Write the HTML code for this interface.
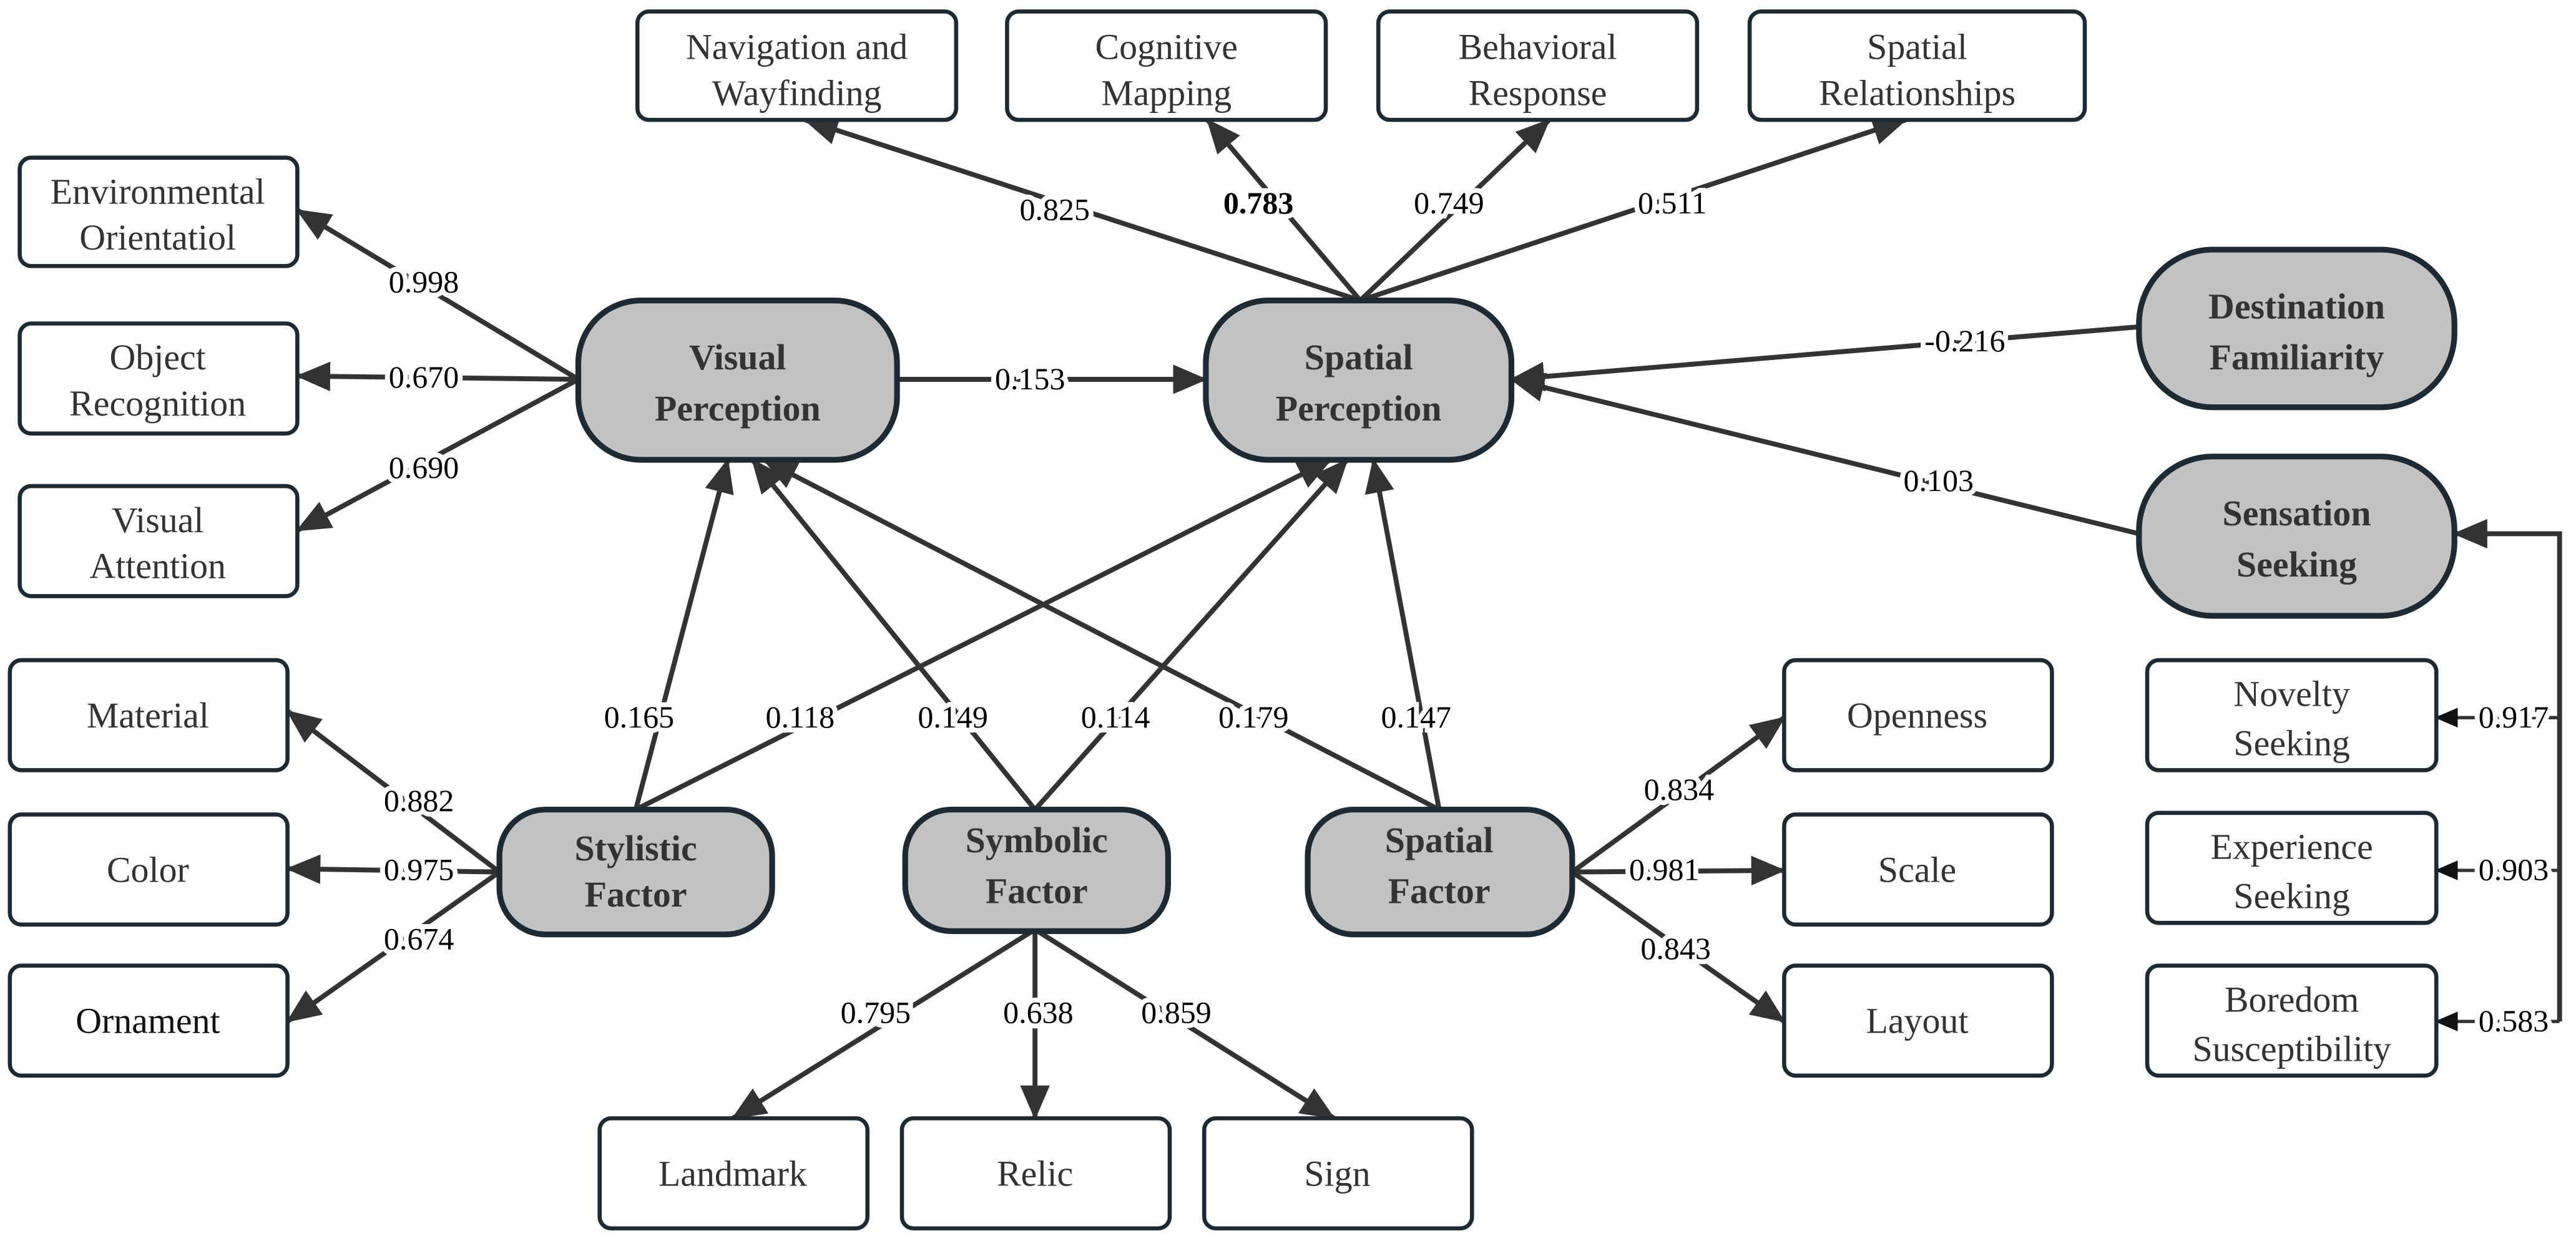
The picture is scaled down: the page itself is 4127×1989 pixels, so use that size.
<!DOCTYPE html>
<html><head><meta charset="utf-8"><style>html,body{margin:0;padding:0;background:#fff}svg{display:block}
svg text{font-family:"Liberation Serif","DejaVu Serif",serif}</style></head>
<body>
<svg width="4127" height="1989" viewBox="0 0 1568 755.7" preserveAspectRatio="none" xmlns="http://www.w3.org/2000/svg">
<defs>
<marker id="a" markerUnits="userSpaceOnUse" markerWidth="22" markerHeight="18" refX="20" refY="9" orient="auto"><path d="M0,0 L21,9 L0,18 z" fill="#333"/></marker>
<marker id="s" markerUnits="userSpaceOnUse" markerWidth="14" markerHeight="12" refX="13" refY="6" orient="auto"><path d="M0,0 L14,6 L0,12 z" fill="#111"/></marker>
</defs>
<g stroke="#333" stroke-width="3" fill="none" marker-end="url(#a)">
<line x1="352" y1="231" x2="181" y2="128"/>
<line x1="352" y1="231" x2="181" y2="229"/>
<line x1="352" y1="231" x2="181" y2="323"/>
<line x1="546" y1="231" x2="734" y2="231"/>
<line x1="828" y1="183" x2="490" y2="73"/>
<line x1="828" y1="183" x2="735" y2="73"/>
<line x1="828" y1="183" x2="943" y2="73"/>
<line x1="828" y1="183" x2="1160" y2="73"/>
<line x1="1302" y1="199" x2="920" y2="231"/>
<line x1="1302" y1="325" x2="920" y2="231"/>
<line x1="387" y1="493" x2="443" y2="280"/>
<line x1="387" y1="493" x2="810" y2="280"/>
<line x1="630" y1="493" x2="458" y2="280"/>
<line x1="630" y1="493" x2="820" y2="280"/>
<line x1="876" y1="493" x2="465" y2="280"/>
<line x1="876" y1="493" x2="836" y2="280"/>
<line x1="304" y1="531" x2="175" y2="433"/>
<line x1="304" y1="531" x2="175" y2="529"/>
<line x1="304" y1="531" x2="175" y2="622"/>
<line x1="630" y1="566" x2="446" y2="681"/>
<line x1="630" y1="566" x2="630" y2="681"/>
<line x1="630" y1="566" x2="812" y2="681"/>
<line x1="957" y1="531" x2="1086" y2="437"/>
<line x1="957" y1="531" x2="1086" y2="530"/>
<line x1="957" y1="531" x2="1086" y2="622"/>
<polyline points="1558,622 1558,325 1494,325"/>
</g>
<g stroke="#333" stroke-width="2" fill="none" marker-end="url(#s)">
<line x1="1558" y1="437" x2="1483" y2="437"/>
<line x1="1558" y1="530" x2="1483" y2="530"/>
<line x1="1558" y1="622" x2="1483" y2="622"/>
</g>
<g fill="#fff" stroke="#1e2a33" stroke-width="2.5">
<rect x="388" y="7" width="194" height="66" rx="7"/>
<rect x="613" y="7" width="194" height="66" rx="7"/>
<rect x="839" y="7" width="194" height="66" rx="7"/>
<rect x="1065" y="7" width="204" height="66" rx="7"/>
<rect x="12" y="96" width="169" height="66" rx="7"/>
<rect x="12" y="197" width="169" height="67" rx="7"/>
<rect x="12" y="296" width="169" height="67" rx="7"/>
<rect x="6" y="402" width="169" height="67" rx="7"/>
<rect x="6" y="496" width="169" height="67" rx="7"/>
<rect x="6" y="588" width="169" height="67" rx="7"/>
<rect x="1086" y="402" width="163" height="67" rx="7"/>
<rect x="1086" y="496" width="163" height="67" rx="7"/>
<rect x="1086" y="588" width="163" height="67" rx="7"/>
<rect x="1307" y="402" width="176" height="67" rx="7"/>
<rect x="1307" y="495" width="176" height="67" rx="7"/>
<rect x="1307" y="588" width="176" height="67" rx="7"/>
<rect x="365" y="681" width="163" height="67" rx="7"/>
<rect x="549" y="681" width="163" height="67" rx="7"/>
<rect x="733" y="681" width="163" height="67" rx="7"/>
</g>
<g fill="#c2c2c2" stroke="#1e2a33" stroke-width="3.5">
<rect x="352" y="183" width="194" height="97" rx="38"/>
<rect x="734" y="183" width="186" height="97" rx="38"/>
<rect x="1302" y="152" width="192" height="96" rx="45"/>
<rect x="1302" y="278" width="192" height="97" rx="45"/>
<rect x="304" y="493" width="166" height="76" rx="28"/>
<rect x="551" y="493" width="160" height="74" rx="28"/>
<rect x="796" y="493" width="161" height="76" rx="28"/>
</g>
<g font-size="22" fill="#333" text-anchor="middle">
<text x="485" y="36">Navigation and</text><text x="485" y="64">Wayfinding</text>
<text x="710" y="36">Cognitive</text><text x="710" y="64">Mapping</text>
<text x="936" y="36">Behavioral</text><text x="936" y="64">Response</text>
<text x="1167" y="36">Spatial</text><text x="1167" y="64">Relationships</text>
<text x="96" y="124">Environmental</text><text x="96" y="152">Orientatiol</text>
<text x="96" y="225">Object</text><text x="96" y="253">Recognition</text>
<text x="96" y="324">Visual</text><text x="96" y="352">Attention</text>
<text x="90" y="443">Material</text>
<text x="90" y="537">Color</text>
<text x="90" y="629" fill="#111">Ornament</text>
<text x="1167" y="443">Openness</text>
<text x="1167" y="537">Scale</text>
<text x="1167" y="629">Layout</text>
<text x="1395" y="430">Novelty</text><text x="1395" y="460">Seeking</text>
<text x="1395" y="523">Experience</text><text x="1395" y="553">Seeking</text>
<text x="1395" y="616">Boredom</text><text x="1395" y="646">Susceptibility</text>
<text x="446" y="722">Landmark</text>
<text x="630" y="722">Relic</text>
<text x="814" y="722">Sign</text>
</g>
<g font-size="22" font-weight="bold" fill="#333" text-anchor="middle">
<text x="449" y="225">Visual</text><text x="449" y="256">Perception</text>
<text x="827" y="225">Spatial</text><text x="827" y="256">Perception</text>
<text x="1398" y="194">Destination</text><text x="1398" y="225">Familiarity</text>
<text x="1398" y="320">Sensation</text><text x="1398" y="351">Seeking</text>
<text x="387" y="524">Stylistic</text><text x="387" y="552">Factor</text>
<text x="631" y="519">Symbolic</text><text x="631" y="550">Factor</text>
<text x="876" y="519">Spatial</text><text x="876" y="550">Factor</text>
</g>
<g font-size="19" fill="#000" text-anchor="middle" stroke="#fff" stroke-width="6" paint-order="stroke">
<text x="258" y="178">0.998</text>
<text x="258" y="236">0.670</text>
<text x="258" y="291">0.690</text>
<text x="627" y="237">0.153</text>
<text x="642" y="134">0.825</text>
<text x="766" y="130" font-weight="bold">0.783</text>
<text x="882" y="130">0.749</text>
<text x="1018" y="130">0.511</text>
<text x="1196" y="214">-0.216</text>
<text x="1180" y="299">0.103</text>
<text x="389" y="443">0.165</text>
<text x="487" y="443">0.118</text>
<text x="580" y="443">0.149</text>
<text x="679" y="443">0.114</text>
<text x="763" y="443">0.179</text>
<text x="862" y="443">0.147</text>
<text x="255" y="494">0.882</text>
<text x="255" y="536">0.975</text>
<text x="255" y="578">0.674</text>
<text x="533" y="623">0.795</text>
<text x="632" y="623">0.638</text>
<text x="716" y="623">0.859</text>
<text x="1022" y="487">0.834</text>
<text x="1013" y="536">0.981</text>
<text x="1020" y="584">0.843</text>
<text x="1530" y="443">0.917</text>
<text x="1530" y="536">0.903</text>
<text x="1530" y="628">0.583</text>
</g>
</svg>
</body></html>
